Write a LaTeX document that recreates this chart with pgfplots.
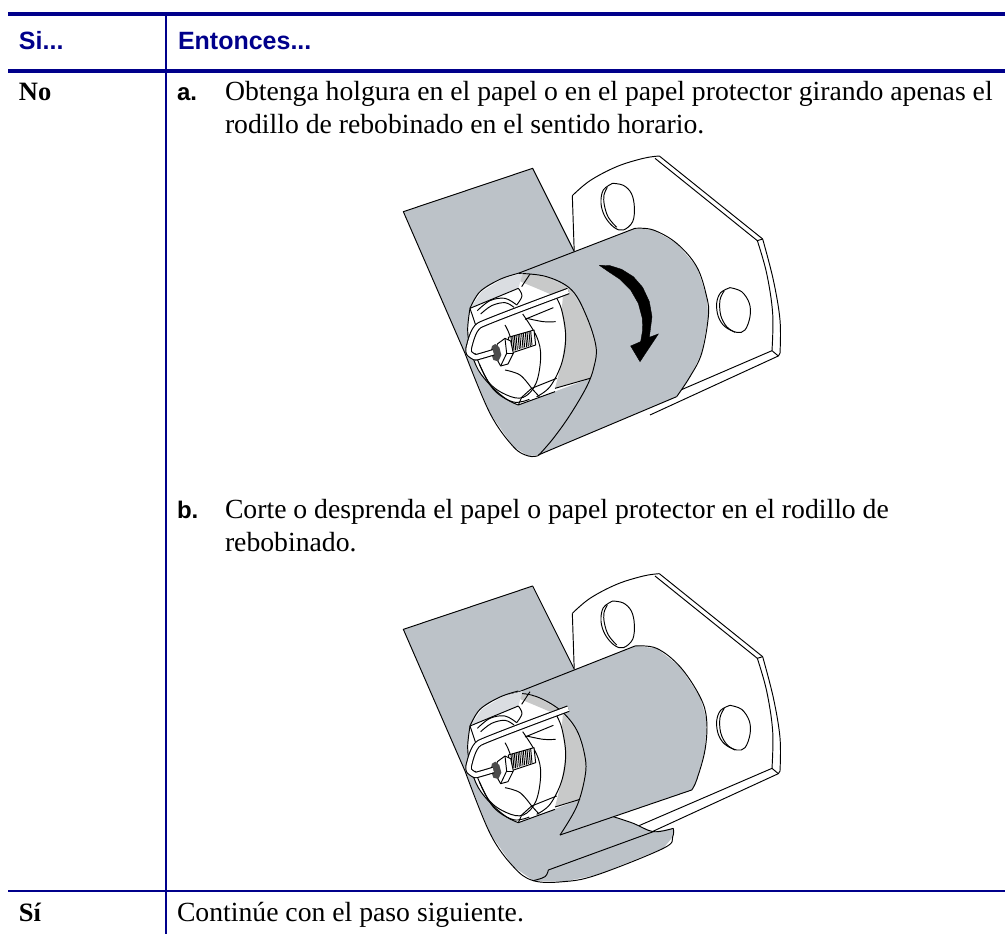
\documentclass[border=0pt]{standalone}
\usepackage{pgfplots}
\pgfplotsset{compat=1.18}
\usepackage{fontspec}
\setmainfont{Liberation Serif}
\newfontfamily\hsf{Liberation Sans}
\definecolor{tblue}{HTML}{00008B}
\definecolor{pgray}{HTML}{BCC2C8}
\definecolor{lgray}{HTML}{C8C9C9}
\pgfplotsset{base/.style={at={(0pt,0pt)},anchor=south west,scale only axis,width=1005pt,height=934pt,axis lines=none,xtick=\empty,ytick=\empty,y dir=reverse,clip=false},
 ol/.style={black,line width=0.95pt,no markers,line join=round},
 sm/.style={black,line width=0.95pt,no markers,smooth,tension=0.6,line join=round},
 fl/.style={draw=none,fill=#1,no markers}}
\tikzset{txt/.style={anchor=base west,inner sep=0pt,outer sep=0pt},
 hd/.style={txt,text=tblue,font=\hsf\bfseries\fontsize{25}{30}\selectfont},
 bd/.style={txt,font=\fontsize{27.7}{32}\selectfont},
 bb/.style={txt,font=\bfseries\fontsize{26.5}{32}\selectfont},
 lt/.style={txt,font=\hsf\bfseries\fontsize{24}{30}\selectfont}}
\newcommand\plate{%
\addplot[fl=white] coordinates {(553,345)(547,167)(590,130)(680,80)(760,55)(808,48)(1118,297)(1150,420)(1170,540)(1170,640)(1165,648)(780,825)(553,345)};
\addplot[sm] coordinates {(547,167)(600,122)(680,80)(760,55)(808,48)};
\addplot[ol] coordinates {(553,345)(547,167)};
\addplot[ol] coordinates {(808,48)(1118,297)};
\addplot[ol] coordinates {(795,55)(1102,302)(1118,297)};
\addplot[sm] coordinates {(1102,302)(1130,400)(1148,520)(1146,632)};
\addplot[sm] coordinates {(1118,297)(1150,420)(1170,540)(1170,640)};
\addplot[ol] coordinates {(1146,632)(1165,648)};
\addplot[ol] coordinates {(1170,640)(1165,648)(780,825)};
\addplot[ol] coordinates {(1146,632)(740,807)};
\addplot[sm] coordinates {(668,130)(700,136)(724,160)(733,200)(728,245)(700,270)(672,262)(645,230)(633,190)(640,150)(668,130)};
\addplot[sm] coordinates {(652,142)(642,165)(643,195)(655,232)(680,262)};
\addplot[sm] coordinates {(1020,443)(1055,455)(1078,490)(1080,530)(1065,570)(1040,577)(1005,560)(985,530)(980,490)(992,458)(1020,443)};
\addplot[sm] coordinates {(1003,452)(990,480)(992,525)(1010,560)(1035,577)};
}
\newcommand\hub{%
\addplot[fl=pgray!55] coordinates {(240,505)(385,445)(398,400)(340,415)(275,455)};
\addplot[sm] coordinates {(240,505)(270,455)(330,418)(385,400)};
\addplot[sm] coordinates {(240,505)(233,570)(242,630)(265,690)(305,740)(350,778)(385,795)};
\addplot[ol] coordinates {(240,505)(385,445)};
\addplot[ol] coordinates {(240,505)(262,570)};
\addplot[sm] coordinates {(262,512)(300,482)(345,475)(380,495)};
\addplot[sm] coordinates {(272,522)(305,497)(345,488)(372,502)};
\addplot[sm] coordinates {(385,445)(396,468)(380,495)};
\addplot[sm] coordinates {(395,440)(420,402)};
\addplot[sm] coordinates {(345,555)(362,600)(345,655)};
\addplot[sm] coordinates {(255,640)(295,725)(350,765)(400,772)(438,730)(452,650)(440,590)(398,522)};
\addplot[sm] coordinates {(440,770)(480,740)(515,670)(527,590)(515,510)(495,465)};
\addplot[sm] coordinates {(268,672)(310,748)(370,786)(418,778)};
\addplot[ol] coordinates {(405,538)(490,503)};
\addplot[sm] coordinates {(410,535)(460,545)(497,545)};
\addplot[ol] coordinates {(425,745)(500,715)};
\addplot[ol] coordinates {(385,795)(395,772)(425,745)(448,770)};
\addplot[sm] coordinates {(345,690)(390,705)(425,745)};
\addplot[ol] coordinates {(385,795)(495,755)};
% bolt
\addplot[ol,fill=white] coordinates {(355,592)(432,570)(437,615)(362,640)(355,592)};
\addplot[ol] coordinates {(363,590)(367,634)};\addplot[ol] coordinates {(368,588)(372,632)};
\addplot[ol] coordinates {(373,587)(377,631)};\addplot[ol] coordinates {(378,585)(382,629)};
\addplot[ol] coordinates {(384,584)(388,627)};\addplot[ol] coordinates {(389,582)(393,626)};
\addplot[ol] coordinates {(395,581)(399,624)};\addplot[ol] coordinates {(400,579)(404,622)};
\addplot[ol] coordinates {(406,578)(410,621)};\addplot[ol] coordinates {(411,576)(415,619)};
\addplot[ol] coordinates {(417,575)(421,618)};\addplot[ol] coordinates {(422,573)(426,616)};
\addplot[ol,fill=white] coordinates {(322,612)(345,595)(362,603)(370,640)(354,672)(332,678)(316,650)(322,612)};
\addplot[ol] coordinates {(345,595)(350,640)(332,678)};
\addplot[ol] coordinates {(350,640)(370,640)};
\addplot[fl=black!70] coordinates {(316,612)(328,622)(334,645)(325,664)(310,660)(302,635)(306,618)};
% wire
\addplot[black,line width=6.6pt,no markers,smooth,tension=0.25,line join=round] coordinates {(310,637)(257,652)(238,640)(236,625)(268,556)(535,453)};
\addplot[white,line width=4.4pt,no markers,smooth,tension=0.25,line join=round] coordinates {(310,637)(257,652)(238,640)(236,625)(268,556)(535,453)};
}
\begin{document}
\begin{tikzpicture}
\path[use as bounding box] (0pt,0pt) rectangle (1005pt,934pt);
\begin{axis}[base,xmin=0,xmax=1005,ymin=0,ymax=934]
\addplot[tblue,line width=3.3pt,no markers] coordinates {(8,14)(1005,14)};
\addplot[tblue,line width=3.3pt,no markers] coordinates {(8,71)(1005,71)};
\addplot[tblue,line width=2pt,no markers] coordinates {(8,891)(1005,891)};
\addplot[tblue,line width=2pt,no markers] coordinates {(165.5,14)(165.5,934)};
\node[hd] at (axis cs:19,50) {Si...};
\node[hd] at (axis cs:178,50) {Entonces...};
\node[bb] at (axis cs:19,100) {No};
\node[bb] at (axis cs:19,921) {Sí};
\node[lt] at (axis cs:177,100) {a.};
\node[lt] at (axis cs:177,518) {b.};
\node[bd] at (axis cs:225,100) {Obtenga holgura en el papel o en el papel protector girando apenas el};
\node[bd] at (axis cs:225,133) {rodillo de rebobinado en el sentido horario.};
\node[bd] at (axis cs:225,518) {Corte o desprenda el papel o papel protector en el rodillo de};
\node[bd] at (axis cs:225,551) {rebobinado.};
\node[bd] at (axis cs:177,921) {Continúe con el paso siguiente.};
\end{axis}
\begin{axis}[base,xmin=-1170,xmax=1845,ymin=-420,ymax=2382]
\plate
\addplot[fl=pgray] coordinates {(40,215)(428,85)(560,345)(640,620)(640,720)(450,945)(415,948)(370,920)(300,820)(225,640)};
\addplot[ol] coordinates {(225,640)(40,215)(428,85)(553,335)};
\addplot[sm] coordinates {(225,640)(300,820)(370,920)(415,948)(445,947)};
\addplot[fl=pgray] coordinates {(385,400)(735,265)(790,270)(860,310)(920,380)(950,470)(955,530)(935,640)(900,710)(860,770)(445,945)(490,895)(540,825)(590,740)(612,680)(618,620)(590,530)(545,450)(470,410)};
\addplot[ol] coordinates {(385,400)(735,265)};
\addplot[sm] coordinates {(735,265)(790,270)(860,310)(920,380)(950,470)(955,530)(935,640)(900,710)(860,770)};
\addplot[ol] coordinates {(860,770)(445,945)};
\addplot[fl=white] coordinates {(240,505)(270,455)(330,418)(385,400)(470,410)(545,450)(590,530)(618,620)(612,680)(600,715)(385,795)(350,778)(305,740)(265,690)(242,630)(233,570)};
\addplot[fl=lgray] coordinates {(385,400)(470,410)(545,450)(590,530)(618,620)(612,680)(600,715)(495,745)(515,670)(527,590)(515,510)(520,458)(480,462)(440,445)(392,425)};
\addplot[sm] coordinates {(445,947)(490,895)(540,825)(590,740)(612,680)(618,620)(590,530)(545,450)(470,410)(385,400)};
\addplot[ol] coordinates {(495,745)(600,715)};
\hub
\addplot[black,fill=black,no markers] coordinates {(628,376)(660,377)(695,388)(730,410)(758,442)(778,485)(786,530)(778,592)(805,582)(750,665)(722,618)(752,605)(758,570)(757,535)(745,490)(722,450)(690,418)(660,398)(628,376)};
\end{axis}
\begin{axis}[base,xmin=-1170,xmax=1845,ymin=-1673,ymax=1129]
\plate
\addplot[fl=pgray] coordinates {(40,215)(428,85)(560,345)(350,417)(225,640)};
\addplot[ol] coordinates {(225,640)(40,215)(428,85)(553,335)};
\addplot[fl=pgray] coordinates {(225,640)(300,827)(370,927)(430,969)(520,972)(620,952)(820,872)(848,838)(850,812)(790,822)(730,797)(670,777)(560,700)(385,700)};
\addplot[sm] coordinates {(225,640)(300,827)(370,927)(430,969)(520,972)(620,952)(820,872)(848,838)(850,812)};
\addplot[sm] coordinates {(850,812)(790,822)(730,797)(670,777)};
\addplot[ol] coordinates {(475,937)(790,822)};
\addplot[sm] coordinates {(430,969)(465,957)(475,937)};
\addplot[fl=pgray] coordinates {(350,417)(735,265)(800,272)(870,327)(930,417)(950,487)(945,577)(920,667)(905,697)(510,832)(560,747)(585,657)(585,597)(560,517)(510,457)(440,417)(380,407)};
\addplot[ol] coordinates {(350,417)(735,265)};
\addplot[sm] coordinates {(735,265)(800,272)(870,327)(930,417)(950,487)(945,577)(920,667)(905,697)};
\addplot[ol] coordinates {(905,697)(510,832)};
\addplot[fl=white] coordinates {(240,505)(270,455)(330,418)(385,407)(440,417)(510,457)(560,517)(585,597)(585,657)(570,725)(385,795)(350,778)(305,740)(265,690)(242,630)(233,570)};
\addplot[fl=lgray] coordinates {(385,407)(440,417)(510,457)(560,517)(585,597)(585,657)(570,725)(495,748)(515,670)(527,590)(515,510)(520,458)(480,462)(440,445)(392,425)};
\addplot[sm] coordinates {(510,832)(560,747)(585,657)(585,597)(560,517)(510,457)(440,417)(380,407)(350,417)};
\addplot[ol] coordinates {(495,748)(570,725)};
\hub
\end{axis}
\end{tikzpicture}
\end{document}
